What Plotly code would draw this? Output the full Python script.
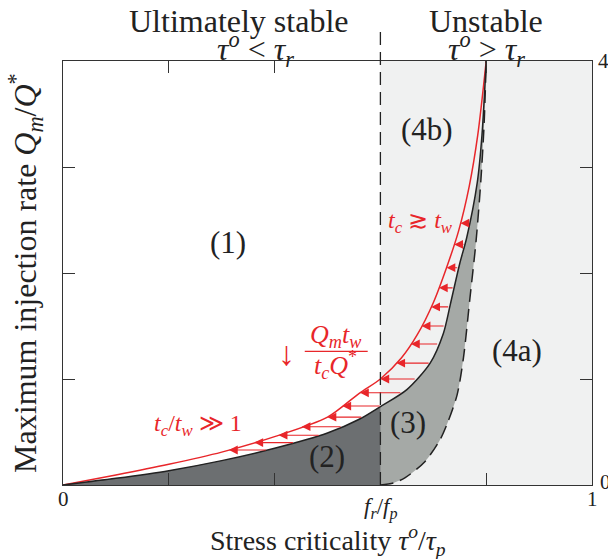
import numpy as np
import plotly.graph_objects as go

# Stress criticality (tau^o / tau_p) versus maximum injection rate (Q_m / Q*)
fr_fp = 0.6  # residual-to-peak friction ratio

# Solid black boundary: limit of region (2) and upper limit of region (3)
black_x = [0.0, 0.1, 0.2, 0.3, 0.4, 0.5, 0.56, 0.6, 0.65, 0.694, 0.719, 0.732, 0.75, 0.763, 0.783, 0.792, 0.8]
black_q = [0.0, 0.063, 0.135, 0.23, 0.346, 0.49, 0.62, 0.74, 0.90, 1.15, 1.43, 1.70, 2.09, 2.33, 2.85, 3.3, 4.0]

# Red boundary (t_c comparable to t_w)
red_x = [0.0, 0.1, 0.2, 0.3, 0.4, 0.5, 0.56, 0.6, 0.64, 0.67, 0.70, 0.725, 0.748, 0.768, 0.784, 0.8]
red_q = [0.0, 0.094, 0.195, 0.31, 0.456, 0.64, 0.865, 1.0, 1.2, 1.42, 1.72, 2.05, 2.4, 2.82, 3.3, 4.0]

# Dashed black boundary: lower limit of region (3)
dash_x = [0.6, 0.625, 0.647, 0.684, 0.713, 0.728, 0.745, 0.757, 0.769, 0.781, 0.790, 0.796, 0.8]
dash_q = [0.0, 0.02, 0.07, 0.22, 0.43, 0.60, 0.85, 1.2, 1.75, 2.31, 2.88, 3.4, 4.0]

# Injection-rate levels of the red arrows (from black to red boundary)
arrow_q = [0.33, 0.40, 0.47, 0.55, 0.64, 0.745, 0.87, 1.0, 1.15, 1.33, 1.50, 1.68, 1.86, 2.05, 2.27, 2.47]

RED = "#e8262a"
INK = "#222222"
FONT = "Liberation Serif"

fig = go.Figure()

# region (3): between the dashed and solid black boundaries
keep = [i for i, x in enumerate(black_x) if x >= 0.5]
r3_x = [0.5] + dash_x + [black_x[i] for i in reversed(keep)]
r3_q = [0.0] + dash_q + [black_q[i] for i in reversed(keep)]
fig.add_trace(go.Scatter(x=r3_x, y=r3_q, mode="lines", fill="toself",
                         fillcolor="#a5a9a6", line=dict(width=0, shape="spline", smoothing=0.8),
                         hoverinfo="skip"))

# region (2): below the solid boundary, left of f_r/f_p
left = [i for i, x in enumerate(black_x) if x <= fr_fp]
fig.add_trace(go.Scatter(x=[black_x[i] for i in left], y=[black_q[i] for i in left],
                         mode="lines", fill="tozeroy", fillcolor="#6c6f71",
                         line=dict(width=0, shape="spline", smoothing=0.8), hoverinfo="skip"))

# boundaries
fig.add_trace(go.Scatter(x=red_x, y=red_q, mode="lines",
                         line=dict(color=RED, width=1.5, shape="spline", smoothing=0.8)))
fig.add_trace(go.Scatter(x=black_x, y=black_q, mode="lines",
                         line=dict(color=INK, width=1.5, shape="spline", smoothing=0.8)))
fig.add_trace(go.Scatter(x=dash_x, y=dash_q, mode="lines",
                         line=dict(color=INK, width=1.5, dash="13px,7px", shape="spline", smoothing=0.8)))

shapes = [
    # unstable zone background
    dict(type="rect", xref="x", yref="y", x0=fr_fp, x1=1, y0=0, y1=4,
         fillcolor="#f0f1f1", line=dict(width=0), layer="below"),
    # f_r/f_p separator, extending above the frame
    dict(type="line", xref="x", yref="paper", x0=fr_fp, x1=fr_fp, y0=0, y1=1.085,
         line=dict(color=INK, width=1.3, dash="13px,7px")),
    # fraction bar of Q_m t_w / t_c Q*
    dict(type="line", xref="x", yref="y", x0=0.457, x1=0.576, y0=1.26, y1=1.26,
         line=dict(color=RED, width=1.2)),
]

annotations = []
for q in arrow_q:
    x_tail = float(np.interp(q, black_q, black_x))
    x_head = float(np.interp(q, red_q, red_x))
    annotations.append(dict(x=x_head, y=q, ax=x_tail, ay=q, xref="x", yref="y",
                            axref="x", ayref="y", text="", showarrow=True,
                            arrowhead=2, arrowsize=1.6, arrowwidth=1.1, arrowcolor=RED,
                            standoff=0, startstandoff=0))


def label(text, x, y, size=31, color=INK, xref="x", yref="y", **kw):
    annotations.append(dict(text=text, x=x, y=y, xref=xref, yref=yref, showarrow=False,
                            font=dict(family=FONT, size=size, color=color),
                            xanchor="center", yanchor="middle", **kw))


# region labels
label("(1)", 0.312, 2.29)
label("(2)", 0.499, 0.27)
label("(3)", 0.652, 0.585)
label("(4a)", 0.858, 1.27)
label("(4b)", 0.688, 3.35)

# red annotations
label("<i>t<sub>c</sub></i> ≳ <i>t<sub>w</sub></i>", 0.675, 2.48, size=24, color=RED)
label("<i>t<sub>c</sub></i>/<i>t<sub>w</sub></i> ≫ 1", 0.255, 0.566, size=24, color=RED)
label("↓", 0.4234, 1.24, size=34, color=RED)
label("<i>Q<sub>m</sub>t<sub>w</sub></i>", 0.516, 1.41, size=26, color=RED)
label("<i>t<sub>c</sub>Q</i><sup>*</sup>", 0.516, 1.13, size=26, color=RED)

# headings above the frame
label("Ultimately stable", 0.333, 1.095, size=32, yref="paper")
label("<i>τ<sup>o</sup></i> < <i>τ<sub>r</sub></i>", 0.363, 1.027, size=32, yref="paper")
label("Unstable", 0.80, 1.095, size=32, yref="paper")
label("<i>τ<sup>o</sup></i> > <i>τ<sub>r</sub></i>", 0.80, 1.027, size=32, yref="paper")

# tick labels
label("0", 0.0, -0.033, size=21, yref="paper")
label("1", 1.0, -0.033, size=21, yref="paper")
label("<i>f<sub>r</sub></i>/<i>f<sub>p</sub></i>", fr_fp, -0.055, size=23, yref="paper")
label("4", 1.021, 1.0, size=21, xref="paper", yref="paper")
label("0", 1.025, 0.008, size=21, xref="paper", yref="paper")

# axis titles
label("Stress criticality <i>τ<sup>o</sup></i>/<i>τ<sub>p</sub></i>", 0.5, -0.13, size=28,
      xref="paper", yref="paper")
label("Maximum injection rate <i>Q<sub>m</sub></i>/<i>Q</i><sup>*</sup>", -0.072, 0.5, size=32,
      xref="paper", yref="paper", textangle=-90)

axis_common = dict(showline=True, mirror="ticks", linecolor="#333333", linewidth=1.3,
                   ticks="inside", ticklen=12, tickcolor="#333333", tickwidth=1,
                   showticklabels=False, showgrid=False, zeroline=False)

fig.update_layout(
    width=608, height=559,
    margin=dict(l=63, r=16, t=61, b=74, pad=0),
    plot_bgcolor="white", paper_bgcolor="white",
    showlegend=False,
    xaxis=dict(range=[0, 1], tickvals=[0.2, 0.4, 0.8], **axis_common),
    yaxis=dict(range=[0, 4], tickvals=[1, 2, 3], **axis_common),
    shapes=shapes,
    annotations=annotations,
)

fig.write_html("out.html")
